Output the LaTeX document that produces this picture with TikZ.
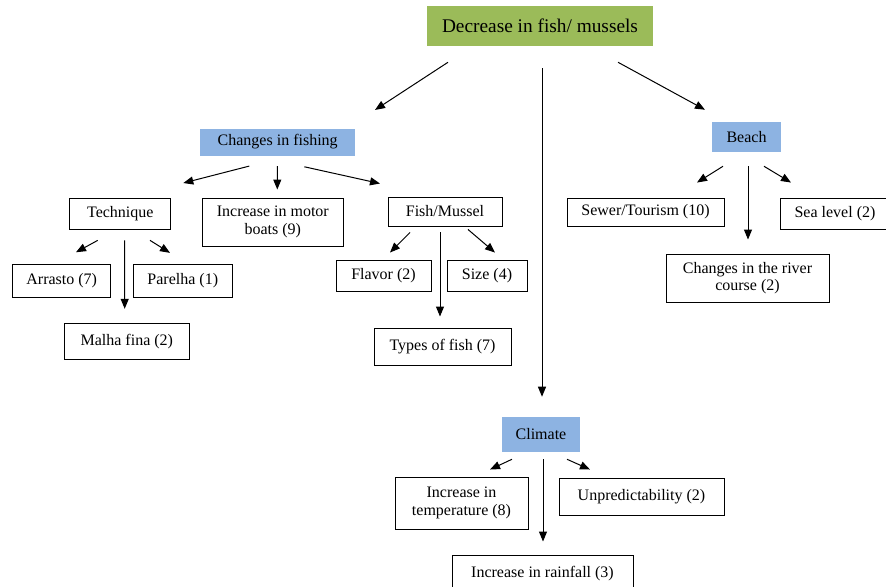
\documentclass[tikz,border=0pt]{standalone}
\usepackage{fontspec}
\setmainfont{Liberation Serif}
\definecolor{rootgreen}{RGB}{155, 187, 89}
\definecolor{catblue}{RGB}{141, 179, 226}
\usepackage{tikz}
\usetikzlibrary{arrows.meta}

\begin{document}
\begin{tikzpicture}[x=0.75pt, y=-0.75pt,
    box/.style={draw, line width=0.7pt, inner sep=1pt, align=center, font=\fontsize{12}{13}\selectfont},
    catbox/.style={fill=catblue, inner sep=1pt, font=\fontsize{12}{13}\selectfont},
    arr/.style={-{Triangle[length=7.5pt, width=6pt]}, line width=0.75pt}]
  \useasboundingbox (0, 0) rectangle (886, 586);

  % Top
  \node[fill=rootgreen, minimum width=169.5pt, minimum height=30pt, font=\fontsize{14.5}{17}\selectfont] (root) at (540, 26) {Decrease in fish/ mussels};

  % Categories
  \node[catbox, minimum width=116.25pt, minimum height=20.25pt] (fishing) at (277.7, 142) {Changes in fishing};
  \node[catbox, minimum width=51.75pt, minimum height=22.5pt] (beach) at (746.5, 137) {Beach};
  \node[catbox, minimum width=58.5pt, minimum height=26.25pt] (climate) at (541, 434.5) {Climate};

  \draw[arr] ([shift={(-92, 16)}]root.south) -- ([shift={(97.3, -18.3)}]fishing.north);
  \draw[arr] ([shift={(2, 22)}]root.south) -- ([shift={(1, -20)}]climate.north);
  \draw[arr] ([shift={(78, 16)}]root.south) -- ([shift={(-41.5, -12)}]beach.north);

  % Changes in fishing
  \node[box, minimum width=75.75pt, minimum height=23.25pt] (technique) at (120.3, 213.7) {Technique};
  \node[box, minimum width=105.75pt, minimum height=36pt] (motor) at (272.8, 222) {Increase in motor\\boats (9)};
  \node[box, minimum width=85.5pt, minimum height=21.75pt] (fishmus) at (445, 211.5) {Fish/Mussel};

  \draw[arr] ([shift={(-28.4, 10.3)}]fishing.south) -- ([shift={(63, -14.7)}]technique.north);
  \draw[arr] ([shift={(-0.4, 10.3)}]fishing.south) -- ([shift={(4.5, -8)}]motor.north);
  \draw[arr] ([shift={(26.6, 11)}]fishing.south) -- ([shift={(-65, -13)}]fishmus.north);

  % Technique
  \node[box, minimum width=73.5pt, minimum height=25pt] (arrasto) at (61.7, 281) {Arrasto (7)};
  \node[box, minimum width=74.75pt, minimum height=25pt] (parelha) at (182.8, 281) {Parelha (1)};
  \node[box, minimum width=93.75pt, minimum height=26.75pt] (malha) at (126.8, 341.5) {Malha fina (2)};

  \draw[arr] ([shift={(-22.6, 10.7)}]technique.south) -- ([shift={(14.3, -11.6)}]arrasto.north);
  \draw[arr] ([shift={(4.4, 10.7)}]technique.south) -- ([shift={(-2.1, -14.4)}]malha.north);
  \draw[arr] ([shift={(29.7, 10.7)}]technique.south) -- ([shift={(-12.8, -11)}]parelha.north);

  % Fish/Mussel
  \node[box, minimum width=71.25pt, minimum height=23.25pt] (flavor) at (383.5, 275.5) {Flavor (2)};
  \node[box, minimum width=60pt, minimum height=23.25pt] (size) at (487, 275.5) {Size (4)};
  \node[box, minimum width=102.75pt, minimum height=27.75pt] (types) at (442.5, 346.5) {Types of fish (7)};

  \draw[arr] ([shift={(-35, 6)}]fishmus.south) -- ([shift={(6.5, -7)}]flavor.north);
  \draw[arr] ([shift={(-5, 6)}]fishmus.south) -- ([shift={(-2.5, -11)}]types.north);
  \draw[arr] ([shift={(23, 3)}]fishmus.south) -- ([shift={(8, -7)}]size.north);

  % Beach
  \node[box, minimum width=117.75pt, minimum height=21pt] (sewer) at (645.5, 212) {Sewer/Tourism (10)};
  \node[box, minimum width=82.5pt, minimum height=23.25pt] (sealevel) at (835, 213.5) {Sea level (2)};
  \node[box, minimum width=122.25pt, minimum height=36pt] (river) at (747.5, 278) {Changes in the river\\course (2)};

  \draw[arr] ([shift={(-23.5, 14)}]beach.south) -- ([shift={(51.5, -15)}]sewer.north);
  \draw[arr] ([shift={(1.5, 14)}]beach.south) -- ([shift={(0.5, -14)}]river.north);
  \draw[arr] ([shift={(17.5, 14)}]beach.south) -- ([shift={(-44, -15)}]sealevel.north);

  % Climate
  \node[box, minimum width=99.75pt, minimum height=39pt] (temp) at (461.5, 503) {Increase in\\temperature (8)};
  \node[box, minimum width=123.75pt, minimum height=27.75pt] (unpred) at (641.5, 496.5) {Unpredictability (2)};
  \node[box, minimum width=135.75pt, minimum height=28.5pt] (rain) at (542.5, 574) {Increase in rainfall (3)};

  \draw[arr] ([shift={(-29, 7)}]climate.south) -- ([shift={(28.5, -7)}]temp.north);
  \draw[arr] ([shift={(2, 7)}]climate.south) -- ([shift={(0.5, -13)}]rain.north);
  \draw[arr] ([shift={(26, 7)}]climate.south) -- ([shift={(-51.5, -8)}]unpred.north);
\end{tikzpicture}
\end{document}
